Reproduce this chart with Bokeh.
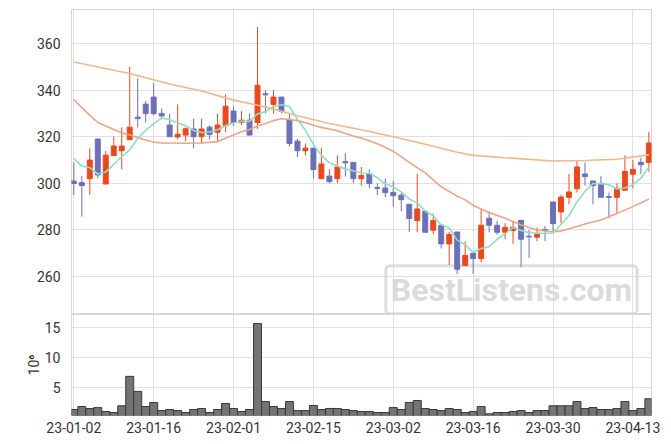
from bokeh.plotting import figure
from bokeh.layouts import column
from bokeh.models import Range1d, FixedTicker, Label, ColumnDataSource
from bokeh.embed import file_html
from bokeh.resources import INLINE

dates = [
    "23-01-02", "23-01-03", "23-01-04", "23-01-05", "23-01-06",
    "23-01-09", "23-01-10", "23-01-11", "23-01-12", "23-01-13",
    "23-01-16", "23-01-17", "23-01-18", "23-01-19", "23-01-20",
    "23-01-25", "23-01-26", "23-01-27", "23-01-30", "23-01-31",
    "23-02-01", "23-02-02", "23-02-03", "23-02-06", "23-02-07",
    "23-02-08", "23-02-09", "23-02-10", "23-02-13", "23-02-14",
    "23-02-15", "23-02-16", "23-02-17", "23-02-20", "23-02-21",
    "23-02-22", "23-02-23", "23-02-24", "23-02-27", "23-02-28",
    "23-03-02", "23-03-03", "23-03-06", "23-03-07", "23-03-08",
    "23-03-09", "23-03-10", "23-03-13", "23-03-14", "23-03-15",
    "23-03-16", "23-03-17", "23-03-20", "23-03-21", "23-03-22",
    "23-03-23", "23-03-24", "23-03-27", "23-03-28", "23-03-29",
    "23-03-30", "23-03-31", "23-04-03", "23-04-04", "23-04-05",
    "23-04-06", "23-04-07", "23-04-10", "23-04-11", "23-04-12",
    "23-04-13", "23-04-14", "23-04-17",
]

open_ = [301.0, 300.3, 302.0, 319.0, 299.7, 311.9, 314.0, 318.7, 328.4, 334.0,
         337.0, 330.0, 325.0, 319.9, 320.7, 323.3, 320.0, 324.1, 321.9, 324.7,
         331.0, 326.1, 327.1, 326.1, 338.4, 333.9, 337.0, 327.1, 318.1, 314.0,
         315.1, 302.0, 303.1, 302.0, 309.3, 309.0, 302.0, 304.0, 298.2, 298.0,
         296.1, 294.9, 291.0, 284.0, 288.0, 279.9, 282.0, 274.0, 279.1, 264.7,
         270.0, 267.7, 285.0, 282.0, 279.0, 279.7, 284.1, 277.3, 276.9, 280.2,
         292.0, 287.7, 294.0, 297.7, 304.0, 301.0, 300.0, 294.3, 294.0, 297.0,
         303.9, 309.0, 309.0]
high = [308.9, 303.1, 315.0, 319.0, 313.9, 320.1, 324.0, 350.0, 345.0, 335.3,
        343.0, 332.1, 329.9, 333.9, 324.0, 327.7, 327.7, 324.9, 330.0, 338.1,
        333.1, 331.0, 330.0, 367.1, 340.0, 340.0, 337.0, 330.0, 319.1, 317.1,
        315.1, 315.1, 306.0, 312.0, 312.9, 309.0, 307.0, 306.0, 300.0, 302.0,
        300.9, 296.0, 291.0, 304.0, 288.0, 287.0, 282.0, 279.1, 279.1, 275.1,
        270.0, 288.9, 287.9, 284.0, 282.9, 284.0, 284.1, 280.0, 281.1, 281.7,
        292.0, 295.1, 304.0, 310.0, 309.0, 301.0, 303.1, 296.0, 300.0, 312.0,
        310.0, 311.0, 322.0]
low = [295.0, 285.7, 295.0, 302.1, 299.7, 311.9, 306.0, 318.7, 324.0, 326.1,
       329.0, 327.4, 320.0, 318.9, 318.1, 315.0, 317.0, 318.9, 318.0, 322.0,
       324.7, 325.0, 320.7, 323.4, 330.0, 330.0, 330.0, 315.7, 311.3, 312.0,
       302.1, 302.0, 300.0, 300.0, 302.9, 300.0, 299.1, 297.9, 294.9, 294.0,
       290.0, 288.0, 279.1, 279.0, 279.0, 278.1, 272.0, 265.0, 261.1, 264.7,
       261.1, 266.1, 279.0, 278.0, 276.0, 274.1, 264.0, 268.0, 275.1, 275.2,
       279.3, 282.9, 291.0, 296.1, 299.0, 291.0, 294.0, 285.0, 287.1, 297.0,
       297.9, 304.0, 305.0]
close = [299.9, 299.0, 310.0, 303.6, 312.1, 316.0, 316.0, 324.1, 327.8, 329.9,
         329.9, 328.9, 320.0, 321.1, 323.4, 320.0, 323.3, 321.0, 325.0, 333.1,
         326.1, 327.1, 320.7, 342.1, 338.0, 337.0, 330.9, 317.1, 314.0, 315.1,
         305.9, 308.3, 300.7, 307.0, 308.8, 302.0, 303.4, 299.9, 297.8, 296.0,
         294.7, 293.0, 284.9, 289.0, 279.0, 284.0, 274.0, 278.0, 263.1, 269.1,
         267.7, 282.0, 282.0, 279.0, 281.1, 281.1, 276.0, 277.0, 278.1, 279.8,
         282.7, 294.1, 296.3, 307.0, 302.9, 299.0, 294.0, 294.0, 297.9, 305.1,
         306.0, 308.0, 317.3]
volume_m = [1.28, 1.78, 1.45, 1.6, 0.95, 0.78, 1.9, 6.8, 4.3, 1.78,
            2.45, 1.1, 1.28, 1.1, 0.78, 1.28, 1.45, 0.78, 1.28, 2.28,
            1.45, 0.95, 1.28, 15.6, 2.6, 1.78, 1.45, 2.6, 1.1, 1.1,
            1.95, 1.28, 1.45, 1.45, 1.28, 1.1, 0.95, 0.95, 0.78, 0.78,
            1.6, 1.28, 2.45, 2.78, 1.45, 1.28, 1.1, 1.45, 1.28, 0.78,
            0.95, 1.78, 0.56, 0.78, 0.78, 0.95, 1.1, 0.78, 1.1, 1.1,
            1.9, 1.9, 1.9, 2.6, 1.45, 1.6, 1.28, 1.28, 1.45, 2.6,
            1.1, 1.45, 3.07]
ma5 = [310.7, 307.4, 306.7, 304.0, 304.9, 308.1, 311.5, 314.4, 319.2, 322.8,
       325.5, 328.1, 327.3, 326.0, 324.7, 322.7, 321.8, 322.0, 323.0, 324.8,
       325.9, 326.6, 326.6, 329.8, 330.8, 333.0, 333.7, 333.0, 327.4, 322.8,
       316.6, 312.1, 308.8, 307.4, 306.2, 305.4, 304.4, 304.3, 302.4, 299.8,
       298.4, 296.3, 293.3, 291.5, 288.1, 286.0, 282.2, 280.8, 275.6, 273.6,
       270.4, 272.0, 272.8, 276.0, 278.4, 281.0, 279.8, 278.8, 278.7, 278.4,
       278.7, 282.3, 286.2, 292.0, 296.6, 299.9, 299.8, 299.4, 297.6, 298.0,
       299.4, 302.2, 306.9]
ma20_idx = [0, 1, 2, 3, 4, 5, 6, 7, 8, 9, 10, 11, 12, 14, 16, 18, 19, 20, 21, 22,
            23, 24, 25, 26, 27, 28, 29, 30, 31, 32, 33, 34, 35, 36, 38, 40, 42, 44,
            46, 48, 49, 50, 52, 54, 56, 58, 60, 61, 62, 64, 66, 68, 70, 72]
ma20 = [336.0, 332.5, 329.3, 326.1, 324.6, 323.1, 321.7, 320.7, 319.7, 318.6,
        317.7, 317.3, 317.3, 317.2, 317.3, 317.9, 319.3, 320.7, 322.1, 323.1,
        324.6, 325.7, 326.9, 327.7, 327.4, 326.9, 326.0, 324.9, 324.0, 323.3,
        322.6, 321.4, 320.3, 319.4, 317.0, 313.8, 309.0, 304.5, 298.5, 294.5,
        292.9, 290.5, 287.5, 285.0, 282.1, 280.0, 279.2, 279.5, 280.5, 282.5,
        284.3, 287.0, 290.0, 293.3]
ma60_idx = [0, 7, 12, 16, 20, 24, 28, 32, 36, 40, 44, 48, 50, 54, 60, 64, 68, 72]
ma60 = [352.1, 347.1, 342.6, 339.6, 335.7, 332.8, 329.0, 325.7, 323.0, 320.0,
        316.8, 313.3, 312.0, 311.0, 309.6, 309.8, 310.3, 312.2]
tick_idx = [0, 10, 20, 30, 40, 50, 60, 70]

UP = "#e8491d"
DOWN = "#6c70b6"
FONT = "Roboto"
LABEL_COLOR = "#333333"
GRID = "#e0e0e0"
OUTLINE = "#d6d6d6"

idx = list(range(len(dates)))
colors = [UP if c >= o else DOWN for o, c in zip(open_, close)]
src = ColumnDataSource(dict(
    x=idx, open=open_, high=high, low=low, close=close,
    top=[max(o, c) for o, c in zip(open_, close)],
    bottom=[min(o, c) for o, c in zip(open_, close)],
    color=colors, vol=volume_m,
))

x_range = Range1d(-0.29, 72.33)


def style(p):
    p.outline_line_color = OUTLINE
    p.grid.grid_line_color = GRID
    p.xgrid.ticker = FixedTicker(ticks=tick_idx)
    for ax in p.yaxis:
        ax.axis_line_color = None
        ax.major_tick_line_color = None
        ax.minor_tick_line_color = None
        ax.major_label_text_font = FONT
        ax.major_label_text_font_size = "14px"
        ax.major_label_text_color = LABEL_COLOR
        ax.major_label_standoff = 5


p1 = figure(width=671, height=314, x_range=x_range, y_range=Range1d(243.7, 374.6),
            output_backend="svg", toolbar_location=None,
            min_border_left=71, min_border_right=20, min_border_top=9, min_border_bottom=0)
p1.xaxis.visible = False
style(p1)
p1.yaxis.ticker = FixedTicker(ticks=[260, 280, 300, 320, 340, 360])

wm = Label(x=54.8, y=254.3, text="BestListens.com", text_font=FONT, text_font_style="bold",
           text_font_size="32px", text_color="#d2d2d2", text_alpha=0.8,
           text_align="center", text_baseline="middle",
           border_line_color="#d6d6d6", border_line_width=3, border_line_alpha=0.8,
           padding=5, border_radius=4, level="underlay")
p1.add_layout(wm)

p1.segment("x", "high", "x", "low", source=src, color="color", line_width=1)
p1.vbar(x="x", width=0.62, top="top", bottom="bottom", source=src,
        fill_color="color", line_color="color", line_width=1)
p1.line(ma60_idx, ma60, color="#f0b78c", line_width=1.6)
p1.line(ma20_idx, ma20, color="#eba488", line_width=1.6)
p1.line(idx, ma5, color="#93dcc2", line_width=1.6)

p2 = figure(width=671, height=130, x_range=x_range, y_range=Range1d(0.28, 17.1),
            output_backend="svg", toolbar_location=None,
            min_border_left=71, min_border_right=20, min_border_top=0, min_border_bottom=29)
style(p2)
p2.yaxis.ticker = FixedTicker(ticks=[5, 10, 15])
p2.yaxis.axis_label = "10\u2076"
p2.yaxis.axis_label_text_font = FONT
p2.yaxis.axis_label_text_font_size = "14px"
p2.yaxis.axis_label_text_font_style = "normal"
p2.yaxis.axis_label_text_color = LABEL_COLOR
p2.yaxis.axis_label_standoff = 0
p2.xaxis.ticker = FixedTicker(ticks=tick_idx)
p2.xaxis.major_label_overrides = {i: dates[i] for i in tick_idx}
p2.xaxis.axis_line_color = None
p2.xaxis.major_tick_line_color = None
p2.xaxis.minor_tick_line_color = None
p2.xaxis.major_tick_out = 0
p2.xaxis.major_label_standoff = 6
p2.xaxis.major_label_text_font = FONT
p2.xaxis.major_label_text_font_size = "14px"
p2.xaxis.major_label_text_color = LABEL_COLOR
p2.vbar(x="x", width=1.0, top="vol", bottom=0, source=src,
        fill_color="#747474", line_color="#3a3a3a", line_width=1)

layout = column(p1, p2, spacing=0)
open("out.html", "w").write(file_html(layout, INLINE))
